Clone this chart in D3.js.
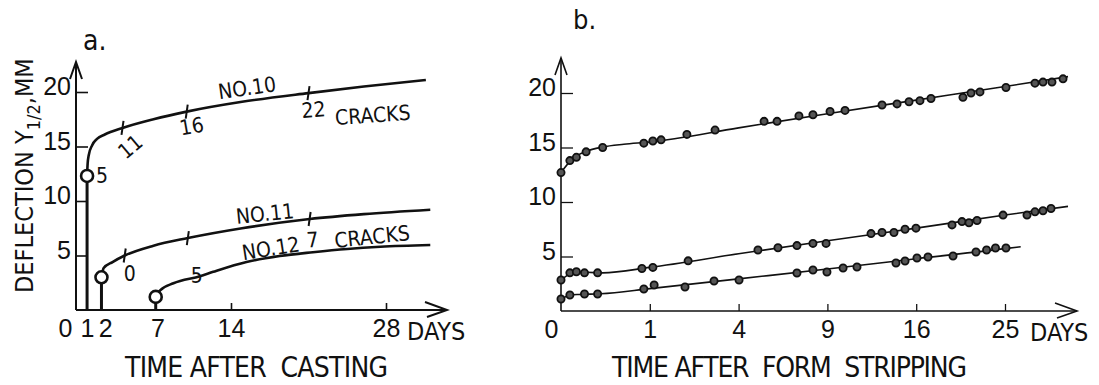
<!DOCTYPE html>
<html>
<head>
<meta charset="utf-8">
<script src="https://cdn.jsdelivr.net/npm/d3@7"></script>
<style>
  body { margin: 0; background: #fff; }
  svg { display: block; }
  text { font-family: "Liberation Sans Narrow", "DejaVu Sans Condensed", sans-serif; fill: #111; }
  .title { white-space: pre; }
</style>
</head>
<body>
<svg id="chart" width="1099" height="385"></svg>
<script>
// tick labels
const yTicks = [5, 10, 15, 20]
const castTicks = [0, 1, 2, 7, 14, 28]
const stripTicks = [0, 1, 4, 9, 16, 25]

// a. time after casting (days) -> deflection (mm)
const loadDays = [1, 2.3, 7.2]
const loadVals = [12.3, 3.0, 1.2]

const no10Days = [1, 1.05, 1.15, 1.45, 1.9, 2.6, 4.2, 7, 10, 15, 21, 26, 31.6]
const no10Vals = [12.3, 13.4, 14.2, 15.1, 15.7, 16.1, 16.7, 17.5, 18.2, 19.1, 19.9, 20.5, 21.1]
const no11Days = [2.3, 2.5, 3.3, 4.4, 7, 10.1, 15, 21.1, 26, 32]
const no11Vals = [3.0, 3.85, 4.4, 5.0, 5.9, 6.6, 7.5, 8.35, 8.8, 9.2]
const no12Days = [7.2, 7.6, 8.8, 11.2, 12.4, 15.4, 18.4, 21.4, 24.5, 27.5, 32]
const no12Vals = [1.2, 1.8, 2.45, 3.1, 3.5, 4.4, 4.95, 5.3, 5.6, 5.8, 5.96]

// crack counts written on the curves
const no10CrackDays = [4.2, 10, 21]
const no10CrackVals = [16.7, 18.2, 19.9]
const no10Cracks = ["11", "16", "22"]
const no11CrackDays = [4.4, 10.1, 21.1]
const no11CrackVals = [5.0, 6.6, 8.35]
const no11Cracks = ["0", "5", "7"]

// b. time after form stripping (days, sqrt scale) -> deflection (mm)
const upperT = [0, 0.01, 0.03, 0.08, 0.22, 0.87, 1.07, 1.27, 2.01, 3.01, 5.23, 5.92, 7.18, 8.05, 9.18, 10.23, 13.07, 14.32, 15.36, 16.34, 17.36, 20.49, 21.32, 22.26, 25.11, 28.49, 29.46, 30.57, 31.96]
const upperV = [12.7, 13.8, 14.1, 14.6, 15.0, 15.4, 15.6, 15.7, 16.2, 16.6, 17.4, 17.4, 17.9, 18.0, 18.3, 18.4, 18.9, 19.0, 19.2, 19.3, 19.5, 19.6, 20.0, 20.1, 20.5, 20.9, 21.0, 21.0, 21.3]
const middleT = [0, 0.01, 0.03, 0.07, 0.17, 0.83, 1.07, 2.05, 4.92, 5.97, 7.06, 8.05, 8.91, 12.19, 13.07, 14.06, 15.01, 15.98, 19.39, 20.39, 21.11, 21.95, 24.78, 27.54, 28.49, 29.46, 30.45]
const middleV = [2.84, 3.5, 3.6, 3.5, 3.5, 3.9, 4.0, 4.6, 5.6, 5.8, 6.0, 6.2, 6.2, 7.1, 7.2, 7.2, 7.5, 7.6, 7.9, 8.2, 8.1, 8.3, 8.8, 8.8, 9.1, 9.2, 9.4]
const lowerT = [0, 0.01, 0.07, 0.17, 0.87, 1.1, 1.95, 2.97, 4.02, 7.06, 8.05, 8.97, 10.09, 11.11, 14.23, 15.01, 16.07, 17.08, 19.49, 21.84, 22.97, 23.94, 25.11]
const lowerV = [1.1, 1.47, 1.56, 1.56, 2.02, 2.39, 2.2, 2.75, 2.84, 3.49, 3.76, 3.58, 3.94, 4.04, 4.4, 4.59, 4.86, 4.95, 5.05, 5.41, 5.6, 5.78, 5.78]

// drawn trend lines in b.
const upperFitT = [0, 0.01, 0.03, 0.08, 0.22, 0.5, 1, 4, 9, 16, 25, 32.6]
const upperFitV = [12.7, 13.7, 14.2, 14.65, 15.05, 15.3, 15.5, 16.8, 18.1, 19.35, 20.6, 21.5]
const middleFitT = [0, 0.01, 0.03, 0.08, 0.22, 1, 4, 9, 16, 25, 32.6]
const middleFitV = [2.85, 3.4, 3.55, 3.55, 3.5, 4.0, 5.25, 6.45, 7.6, 8.8, 9.6]
const lowerFitT = [0, 0.01, 0.04, 0.2, 1, 4, 9, 16, 25, 26.8]
const lowerFitV = [1.1, 1.45, 1.52, 1.58, 2.05, 2.95, 3.85, 4.8, 5.72, 5.9]

const zip = (xs, ys) => xs.map((x, i) => [x, ys[i]])

const svg = d3.select("#chart")
const ink = "#111"

const xA = d3.scaleLinear().domain([0, 28]).range([76, 386])
const yA = d3.scaleLinear().domain([0, 20]).range([310, 92])
const xB = d3.scaleSqrt().domain([0, 25]).range([561, 1005])
const yB = d3.scaleLinear().domain([0, 20]).range([311, 93])

function drawFrame(x, y, xTicks, marked, xEnd, yTop, w) {
    const g = svg.append("g")
    const x0 = x.range()[0]
    const y0 = y(0)

    // axis lines with open arrow heads
    g.append("line").attr("x1", x0).attr("x2", x0).attr("y1", y0).attr("y2", yTop)
        .attr("stroke", ink).attr("stroke-width", w)
    g.append("path").attr("d", `M${x0 - 6},${yTop + 17}L${x0},${yTop}L${x0 + 6},${yTop + 17}`)
        .attr("fill", "none").attr("stroke", ink).attr("stroke-width", w)
    g.append("line").attr("x1", x0).attr("x2", xEnd).attr("y1", y0).attr("y2", y0)
        .attr("stroke", ink).attr("stroke-width", w)
    g.append("path").attr("d", `M${xEnd - 22},${y0 - 8}L${xEnd},${y0}L${xEnd - 20},${y0 + 7}`)
        .attr("fill", "none").attr("stroke", ink).attr("stroke-width", w)

    const ya = g.append("g").attr("transform", `translate(${x0},0)`)
        .call(d3.axisLeft(y).tickValues(yTicks).tickSize(-12).tickSizeOuter(0).tickPadding(5))
    ya.select(".domain").remove()
    ya.selectAll("line").attr("stroke", ink).attr("stroke-width", w * 0.8)
    ya.selectAll("text").attr("font-size", 25).attr("dy", "0.1em")
        .style("font-family", "inherit")

    const xa = g.append("g").attr("transform", `translate(0,${y0})`)
        .call(d3.axisBottom(x).tickValues(xTicks).tickSize(-7).tickSizeOuter(0).tickPadding(9))
    xa.select(".domain").remove()
    xa.selectAll(".tick").filter(d => !marked.includes(d)).select("line").remove()
    xa.selectAll("line").attr("stroke", ink).attr("stroke-width", w * 0.8)
    xa.selectAll("text").attr("font-size", 25).style("font-family", "inherit")
    g.selectAll("text").attr("fill", ink)
    return xa
}

// ---------- a. ----------
const xaA = drawFrame(xA, yA, castTicks, [14, 28], xA(28) + 61, yA(20) - 30, 2)
xaA.selectAll(".tick text").attr("dx", d => d === 0 ? -11 : d === 2 ? 7 : d === 7 ? 4 : 0)
svg.append("text").attr("x", xA(28) + 21).attr("y", yA(0) + 30).attr("font-size", 25).text("DAYS")

const lineA = d3.line().x(d => xA(d[0])).y(d => yA(d[1])).curve(d3.curveMonotoneX)
const curvesA = [zip(no10Days, no10Vals), zip(no11Days, no11Vals), zip(no12Days, no12Vals)]
svg.append("g").selectAll("path").data(curvesA).join("path")
    .attr("d", lineA).attr("fill", "none").attr("stroke", ink).attr("stroke-width", 2.6)

// stems from the day of loading
svg.append("g").selectAll("line").data(loadDays).join("line")
    .attr("x1", d => xA(d)).attr("x2", d => xA(d))
    .attr("y1", yA(0)).attr("y2", (d, i) => yA(loadVals[i]))
    .attr("stroke", ink).attr("stroke-width", 3)
svg.append("g").selectAll("circle").data(loadDays).join("circle")
    .attr("cx", d => xA(d)).attr("cy", (d, i) => yA(loadVals[i])).attr("r", 6)
    .attr("fill", "#fff").attr("stroke", ink).attr("stroke-width", 2.6)
svg.append("text").attr("x", xA(loadDays[0]) + 9).attr("y", yA(loadVals[0]) + 7)
    .attr("font-size", 21).text("5")

function crackMarks(days, vals, labels, offs, rots) {
    const g = svg.append("g")
    days.forEach((d, i) => {
        const cx = xA(d), cy = yA(vals[i])
        g.append("line").attr("x1", cx + 1).attr("x2", cx - 1).attr("y1", cy - 7).attr("y2", cy + 7)
            .attr("stroke", ink).attr("stroke-width", 2)
        g.append("text")
            .attr("transform", `translate(${cx + offs[i][0]},${cy + offs[i][1]}) rotate(${rots[i]})`)
            .attr("text-anchor", "middle").attr("dominant-baseline", "central")
            .attr("font-size", 21).text(labels[i])
    })
}
crackMarks(no10CrackDays, no10CrackVals, no10Cracks, [[8, 19], [5, 15], [5, 17]], [-40, -10, -4])
crackMarks(no11CrackDays, no11CrackVals, no11Cracks, [[5, 18], [9, 38], [3, 21]], [0, 0, -4])

const notes = [
    { t: "NO.10", d: 15.45, v: 20.35, r: -8 },
    { t: "CRACKS", d: 26.8, v: 17.85, r: -4 },
    { t: "NO.11", d: 17.07, v: 8.81, r: -6 },
    { t: "CRACKS", d: 26.74, v: 6.7, r: -6 },
    { t: "NO.12", d: 17.6, v: 5.62, r: -9 }
]
svg.append("g").selectAll("text").data(notes).join("text")
    .attr("transform", d => `translate(${xA(d.d)},${yA(d.v)}) rotate(${d.r})`)
    .attr("text-anchor", "middle").attr("dominant-baseline", "central")
    .attr("font-size", 21).text(d => d.t)

svg.append("text").attr("x", 83).attr("y", 50).attr("font-size", 28).text("a.")
svg.append("text").attr("class", "title").attr("x", 125).attr("y", 377).attr("font-size", 28)
    .attr("textLength", 263).attr("lengthAdjust", "spacing").text("TIME AFTER  CASTING")

const yTitle = svg.append("text").attr("transform", "translate(33,293) rotate(-90)").attr("font-size", 25)
yTitle.append("tspan").text("DEFLECTION Y")
yTitle.append("tspan").attr("font-size", 18).attr("dy", 7).text("1/2")
yTitle.append("tspan").attr("dy", -7).text(",MM")

// ---------- b. ----------
const xaB = drawFrame(xB, yB, stripTicks, [1, 4, 9, 16, 25], xB(25) + 72, yB(20) - 35, 1.6)
xaB.selectAll(".tick text").attr("dx", d => d === 0 ? -10 : 0)
svg.append("text").attr("x", xB(25) + 25).attr("y", yB(0) + 30).attr("font-size", 25).text("DAYS")

const lineB = d3.line().x(d => xB(d[0])).y(d => yB(d[1])).curve(d3.curveMonotoneX)
const fitsB = [zip(upperFitT, upperFitV), zip(middleFitT, middleFitV), zip(lowerFitT, lowerFitV)]
svg.append("g").selectAll("path").data(fitsB).join("path")
    .attr("d", lineB).attr("fill", "none").attr("stroke", ink).attr("stroke-width", 1.6)

const pts = [].concat(zip(upperT, upperV), zip(middleT, middleV), zip(lowerT, lowerV))
svg.append("g").selectAll("circle").data(pts).join("circle")
    .attr("cx", d => xB(d[0])).attr("cy", d => yB(d[1])).attr("r", 3.6)
    .attr("fill", "#555").attr("stroke", ink).attr("stroke-width", 1.8)

svg.append("text").attr("x", 573).attr("y", 29).attr("font-size", 27).text("b.")
svg.append("text").attr("class", "title").attr("x", 612).attr("y", 377).attr("font-size", 28)
    .attr("textLength", 355).attr("lengthAdjust", "spacing").text("TIME AFTER  FORM  STRIPPING")
</script>
</body>
</html>
